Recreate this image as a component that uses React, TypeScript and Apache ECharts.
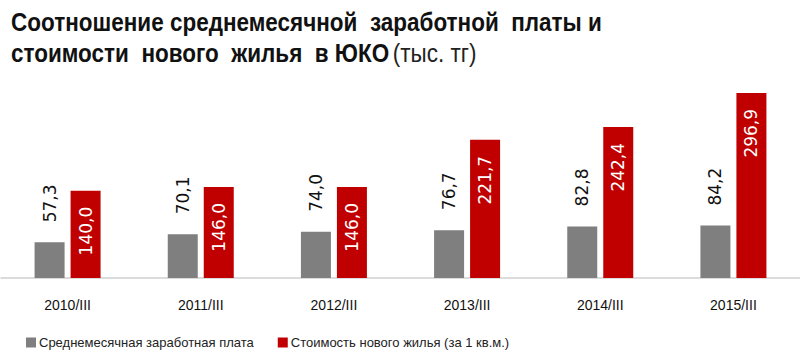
import React, { useEffect, useRef } from "react";
import * as echarts from "echarts";

const categories = ["2010/III", "2011/III", "2012/III", "2013/III", "2014/III", "2015/III"];
const salary = [57.3, 70.1, 74.0, 76.7, 82.8, 84.2];
const housing = [140.0, 146.0, 146.0, 221.7, 242.4, 296.9];
const seriesNames = ["Среднемесячная заработная плата", "Стоимость нового жилья (за 1 кв.м.)"];
const titleLine1 = "Соотношение среднемесячной  заработной  платы и";
const titleLine2Bold = "стоимости  нового  жилья  в ЮКО";
const titleLine2Normal = "(тыс. тг)";

const fmt = (v: number) => v.toFixed(1).replace(".", ",");

export default function App() {
  const ref = useRef<HTMLDivElement>(null);
  useEffect(() => {
    if (!ref.current) return;
    const chart = echarts.init(ref.current, null, { renderer: "svg" });
    chart.setOption({
      animation: false,
      backgroundColor: "#ffffff",
      graphic: [
        {
          type: "text",
          x: 11,
          y: 6,
          scaleY: 1.12,
          style: {
            text: `{b|${titleLine1}}\n{b|${titleLine2Bold}} {n|${titleLine2Normal}}`,
            verticalAlign: "top",
            rich: {
              b: { fontFamily: "Liberation Sans", fontWeight: "bold", fontSize: 22.5, fill: "#111", lineHeight: 28 },
              n: { fontFamily: "Liberation Sans", fontWeight: "normal", fontSize: 22.5, fill: "#222", lineHeight: 28 },
            },
          },
        },
      ],
      legend: {
        left: 21,
        top: 331,
        itemWidth: 10,
        itemHeight: 10,
        itemGap: 24,
        icon: "rect",
        textStyle: { fontFamily: "Liberation Sans", fontSize: 13, color: "#222", padding: [0, 0, 0, -2] },
        data: seriesNames,
      },
      grid: { left: 1, right: 0, top: 91, bottom: 80, containLabel: false },
      xAxis: {
        type: "category",
        data: categories,
        axisLine: { lineStyle: { color: "#d0d0d0", width: 1.5 } },
        axisTick: { show: false },
        axisLabel: { fontFamily: "Liberation Sans", fontSize: 14, color: "#111", margin: 20 },
      },
      yAxis: {
        type: "value",
        min: 0,
        max: 300,
        show: false,
        splitLine: { show: false },
      },
      series: [
        {
          name: seriesNames[0],
          type: "bar",
          data: salary,
          barWidth: 30,
          barGap: "20%",
          itemStyle: { color: "#7f7f7f" },
          label: {
            show: true,
            position: "top",
            rotate: 90,
            align: "left",
            verticalAlign: "middle",
            distance: 20,
            formatter: (p: any) => fmt(p.value),
            fontFamily: "DejaVu Sans",
            fontSize: 17,
            color: "#111",
          },
        },
        {
          name: seriesNames[1],
          type: "bar",
          data: housing,
          barWidth: 30,
          itemStyle: { color: "#c00000" },
          label: {
            show: true,
            position: "insideTop",
            rotate: 90,
            align: "right",
            verticalAlign: "middle",
            distance: 16,
            formatter: (p: any) => fmt(p.value),
            fontFamily: "DejaVu Sans",
            fontSize: 17,
            color: "#ffffff",
          },
        },
      ],
    });
    return () => chart.dispose();
  }, []);
  return <div ref={ref} style={{ width: 800, height: 358, position: "fixed", left: 0, top: 0 }} />;
}
